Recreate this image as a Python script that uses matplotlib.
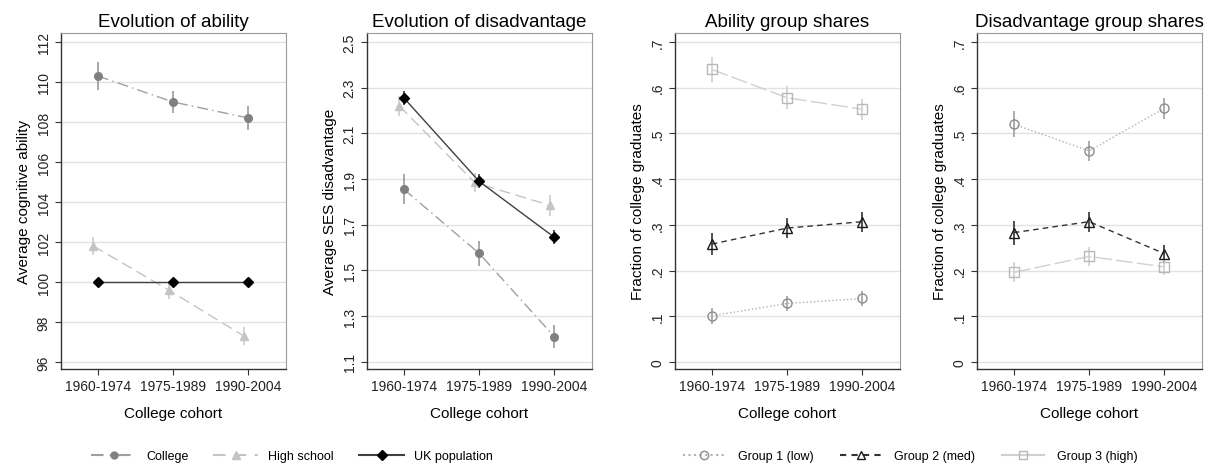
import matplotlib
matplotlib.use("Agg")
import matplotlib.pyplot as plt
from matplotlib.lines import Line2D

plt.rcParams['font.family'] = ['Liberation Sans', 'DejaVu Sans']

cohorts = ["1960-1974", "1975-1989", "1990-2004"]

# Panel 1: ability
ab_college = [110.3, 109.0, 108.2]
ab_college_err = [0.7, 0.55, 0.6]
ab_hs = [101.8, 99.6, 97.3]
ab_hs_err = [0.45, 0.45, 0.45]
ab_uk = [100.0, 100.0, 100.0]

# Panel 2: disadvantage
dis_college = [1.855, 1.575, 1.21]
dis_college_err = [0.065, 0.055, 0.05]
dis_hs = [2.22, 1.885, 1.785]
dis_hs_err = [0.045, 0.04, 0.045]
dis_uk = [2.255, 1.89, 1.645]
dis_uk_err = [0.03, 0.03, 0.03]

# Panel 3: ability group shares
abg1 = [0.101, 0.128, 0.139]
abg1_err = [0.018, 0.016, 0.016]
abg2 = [0.258, 0.293, 0.307]
abg2_err = [0.025, 0.022, 0.022]
abg3 = [0.640, 0.578, 0.553]
abg3_err = [0.027, 0.025, 0.023]

# Panel 4: disadvantage group shares
dg1 = [0.520, 0.462, 0.555]
dg1_err = [0.028, 0.022, 0.023]
dg2 = [0.283, 0.307, 0.237]
dg2_err = [0.026, 0.022, 0.019]
dg3 = [0.196, 0.231, 0.208]
dg3_err = [0.022, 0.020, 0.018]

titles = ["Evolution of ability", "Evolution of disadvantage",
          "Ability group shares", "Disadvantage group shares"]
ylabels = ["Average cognitive ability", "Average SES disadvantage",
           "Fraction of college graduates", "Fraction of college graduates"]

fig = plt.figure(figsize=(12.08, 4.64), dpi=100)
W, H = 1208, 464
lefts = [61, 367, 675, 977]
axes = []
for l in lefts:
    ax = fig.add_axes([l / W, 1 - 370 / H, 225 / W, 336 / H])
    axes.append(ax)

x = [0, 1, 2]
xo = [v - 0.06 for v in x]

C_COL = "#808080"
C_COL_LINE = "#a0a0a0"
C_HS = "#c4c4c4"
C_UK = "#000000"
C_UK_LINE = "#404040"

def series(ax, xs, y, err, color, lcolor, ls, marker, ms, mfc, ecolor, lw=1.0, mew=1.0, dashes=None):
    if err is not None:
        ax.errorbar(xs, y, yerr=err, fmt='none', ecolor=ecolor, elinewidth=1.2, capsize=0, zorder=2)
    line, = ax.plot(xs, y, color=lcolor, ls=ls, lw=lw, zorder=3)
    if dashes is not None:
        line.set_dashes(dashes)
    ax.plot(xs, y, ls='none', marker=marker, ms=ms, mfc=mfc, mec=color, mew=mew, zorder=4)

# Panel 1
ax = axes[0]
series(ax, x, ab_college, ab_college_err, C_COL, C_COL_LINE, '-', 'o', 5.5, C_COL, "#999999", dashes=[8, 3, 1, 3])
series(ax, xo, ab_hs, ab_hs_err, C_HS, C_HS, '--', '^', 6, C_HS, "#cccccc", dashes=[8, 4])
series(ax, x, ab_uk, None, C_UK, C_UK_LINE, '-', 'D', 5.5, C_UK, None)
ax.set_ylim(95.65, 112.45)
ax.set_yticks([96, 98, 100, 102, 104, 106, 108, 110, 112])
ax.set_yticklabels(["96", "98", "100", "102", "104", "106", "108", "110", "112"])

# Panel 2
ax = axes[1]
series(ax, x, dis_college, dis_college_err, C_COL, C_COL_LINE, '-', 'o', 5.5, C_COL, "#999999", dashes=[8, 3, 1, 3])
series(ax, xo, dis_hs, dis_hs_err, C_HS, C_HS, '--', '^', 6, C_HS, "#cccccc", dashes=[8, 4])
series(ax, x, dis_uk, dis_uk_err, C_UK, C_UK_LINE, '-', 'D', 5.5, C_UK, "#333333")
ax.set_ylim(1.069, 2.539)
ax.set_yticks([1.1, 1.3, 1.5, 1.7, 1.9, 2.1, 2.3, 2.5])
ax.set_yticklabels(["1.1", "1.3", "1.5", "1.7", "1.9", "2.1", "2.3", "2.5"])

C_G1 = "#8c8c8c"
C_G2 = "#1a1a1a"
C_G3 = "#b8b8b8"

def shares(ax, g1, e1, g2, e2, g3, e3):
    series(ax, x, g1, e1, C_G1, "#b0b0b0", ':', 'o', 6.5, 'none', "#a0a0a0")
    series(ax, x, g2, e2, C_G2, "#333333", '--', '^', 6.5, 'none', "#333333", dashes=[4, 3])
    series(ax, x, g3, e3, C_G3, "#d0d0d0", '-', 's', 6.5, 'none', "#d0d0d0", dashes=[12, 3])
    ax.set_ylim(-0.0153, 0.7197)
    ax.set_yticks([0, .1, .2, .3, .4, .5, .6, .7])
    ax.set_yticklabels(["0", ".1", ".2", ".3", ".4", ".5", ".6", ".7"])

shares(axes[2], abg1, abg1_err, abg2, abg2_err, abg3, abg3_err)
shares(axes[3], dg1, dg1_err, dg2, dg2_err, dg3, dg3_err)

for ax, t, yl in zip(axes, titles, ylabels):
    ax.set_xlim(-0.49, 2.5)
    ax.set_xticks(x)
    ax.set_xticklabels(cohorts, fontsize=10)
    ax.set_title(t, fontsize=13.5, pad=5)
    ax.set_ylabel(yl, fontsize=11, labelpad=4)
    ax.set_xlabel("College cohort", fontsize=11, labelpad=9)
    for lab in ax.get_yticklabels():
        lab.set_rotation(90)
        lab.set_va('center')
        lab.set_fontsize(10)
    ax.grid(axis='y', color='#e2e2e2', lw=1.0)
    ax.set_axisbelow(True)
    for s in ['left', 'bottom']:
        ax.spines[s].set_color('#333333')
        ax.spines[s].set_linewidth(1.0)
    for s in ['top', 'right']:
        ax.spines[s].set_color('#999999')
        ax.spines[s].set_linewidth(0.8)
    ax.tick_params(axis='both', colors='#333333', labelcolor='#222222', length=4, width=0.8)

# Legends
h1 = [Line2D([], [], color=C_COL_LINE, ls='-', dashes=[6, 3, 1, 3], marker='o', ms=5, mfc=C_COL, mec=C_COL),
      Line2D([], [], color=C_HS, ls='--', dashes=[6, 4], marker='^', ms=5.5, mfc=C_HS, mec=C_HS),
      Line2D([], [], color=C_UK_LINE, ls='-', marker='D', ms=5, mfc=C_UK, mec=C_UK)]
fig.legend(h1, ["College", "High school", "UK population"], loc='center',
           bbox_to_anchor=(292 / W, 1 - 457 / H), ncol=3, frameon=False, fontsize=9,
           handlelength=3.6, columnspacing=2.0, handletextpad=0.8)
h2 = [Line2D([], [], color="#b0b0b0", ls=':', marker='o', ms=6, mfc='none', mec=C_G1),
      Line2D([], [], color="#333333", ls='--', dashes=[3, 2.5], marker='^', ms=6, mfc='none', mec=C_G2),
      Line2D([], [], color="#d0d0d0", ls='-', marker='s', ms=6, mfc='none', mec=C_G3)]
fig.legend(h2, ["Group 1 (low)", "Group 2 (med)", "Group 3 (high)"], loc='center',
           bbox_to_anchor=(910 / W, 1 - 457 / H), ncol=3, frameon=False, fontsize=9,
           handlelength=3.4, columnspacing=2.1, handletextpad=1.0)

fig.savefig("out.png", dpi=100, facecolor='white')
